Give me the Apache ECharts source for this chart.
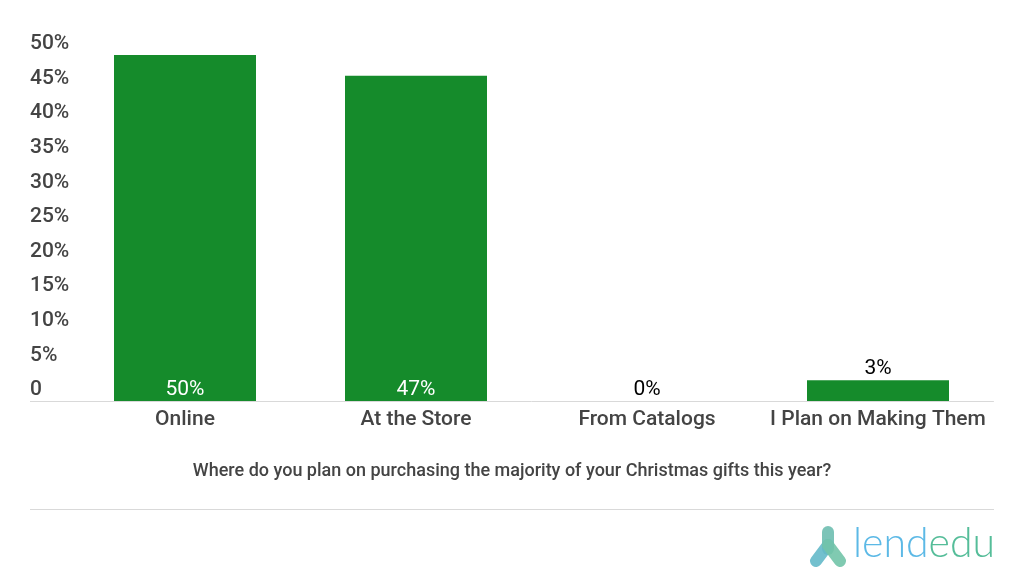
<!DOCTYPE html>
<html><head><meta charset="utf-8">
<style>html,body{margin:0;padding:0;background:#fff}#c{width:1024px;height:584px}</style>
<script src="https://cdn.jsdelivr.net/npm/echarts@6/dist/echarts.min.js"></script>
</head><body><div id="c"></div>
<script>
const categories = ["Online","At the Store","From Catalogs","I Plan on Making Them"];
const values = [50,47,0,3];
const insideBar = [true,true,false,false];
const caption = "Where do you plan on purchasing the majority of your Christmas gifts this year?";
const chart = echarts.init(document.getElementById('c'));
const F = 'Roboto';
const textCol = '#444444', rule = '#d9d9d9';
chart.setOption({
  animation:false,
  backgroundColor:'#ffffff',
  title:{text:caption,left:512,top:455,textAlign:'center',
    textStyle:{fontFamily:F,fontSize:18,fontWeight:500,color:textCol,lineHeight:22}},
  grid:{left:69.5,right:30.5,top:55,bottom:183,containLabel:false},
  xAxis:{type:'category',data:categories,
    axisTick:{show:false},
    axisLine:{show:true,lineStyle:{color:rule,width:1}},
    axisLabel:{interval:0,fontFamily:F,fontSize:21,fontWeight:500,color:textCol,margin:7,lineHeight:24}},
  yAxis:{type:'value',min:0,max:50,interval:5,
    splitLine:{show:false},axisLine:{show:false},axisTick:{show:false},
    axisLabel:{align:'left',margin:39.5,fontFamily:F,fontSize:21,fontWeight:500,color:textCol,
      verticalAlign:'bottom',lineHeight:22,
      formatter:v=>v===0?'0':v+'%'}},
  series:[{type:'bar',barWidth:142,silent:true,
    data:values.map((v,i)=>({value:v,
      label:insideBar[i]
        ?{show:true,position:'insideBottom',distance:1,color:'#ffffff'}
        :{show:true,position:'top',distance:1,color:'#000000'}})),
    itemStyle:{color:'#158b2b'},
    label:{fontFamily:F,fontSize:21,formatter:p=>p.value+'%'}}],
  graphic:[
    {type:'line',silent:true,shape:{x1:30,y1:401.5,x2:70,y2:401.5},style:{stroke:rule,lineWidth:1}},
    {type:'line',silent:true,shape:{x1:30,y1:509.5,x2:994,y2:509.5},style:{stroke:rule,lineWidth:1}},
    {type:'line',silent:true,shape:{x1:828,y1:532,x2:828,y2:549},style:{stroke:'#7cc4b8',lineWidth:12,lineCap:'round'}},
    {type:'line',silent:true,shape:{x1:828,y1:545,x2:816,y2:561},style:{stroke:'#64b9c9',lineWidth:12,lineCap:'round',opacity:.9}},
    {type:'line',silent:true,shape:{x1:828,y1:545,x2:840,y2:561},style:{stroke:'#72c4a8',lineWidth:12,lineCap:'round',opacity:.9}},
    {type:'text',silent:true,left:853,top:523,style:{text:'{a|lend}{b|edu}',
      rich:{a:{fontFamily:'Lato',fontSize:41,fontWeight:300,fill:'#5cb9e6',lineHeight:50},
            b:{fontFamily:'Lato',fontSize:41,fontWeight:300,fill:'#55bd99',lineHeight:50}}}}
  ]
});
chart.setOption({title:{left:507}});
</script></body></html>
